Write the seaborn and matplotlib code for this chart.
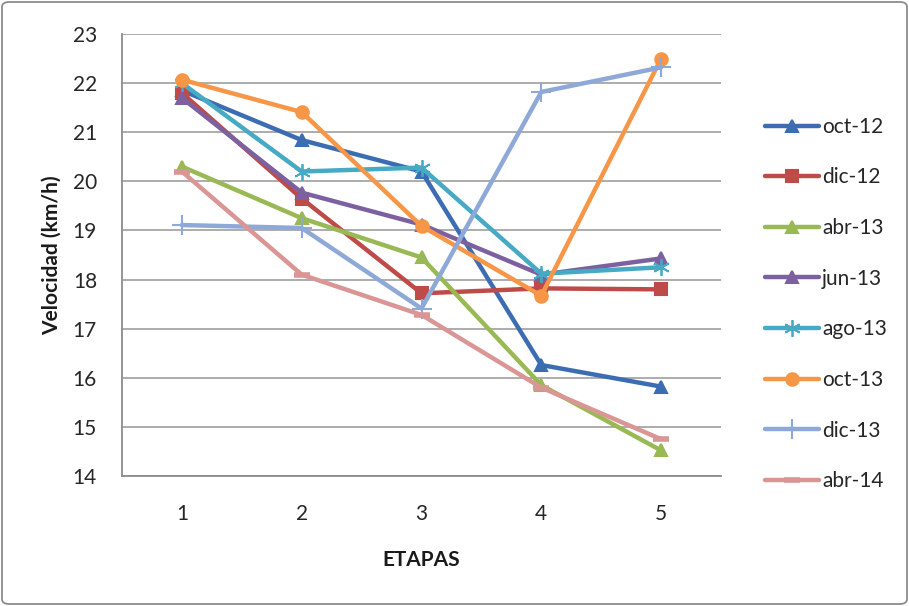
import matplotlib
matplotlib.use("Agg")
import matplotlib.pyplot as plt
import seaborn as sns
import pandas as pd
from matplotlib.patches import FancyBboxPatch

etapas = [1, 2, 3, 4, 5]
series_names = ["oct-12", "dic-12", "abr-13", "jun-13", "ago-13", "oct-13", "dic-13", "abr-14"]
oct12 = [21.85, 20.84, 20.20, 16.26, 15.82]
dic12 = [21.80, 19.65, 17.72, 17.82, 17.80]
abr13 = [20.30, 19.25, 18.45, 15.85, 14.52]
jun13 = [21.70, 19.77, 19.12, 18.10, 18.43]
ago13 = [22.00, 20.20, 20.28, 18.12, 18.25]
oct13 = [22.07, 21.41, 19.09, 17.67, 22.50]
dic13 = [19.11, 19.05, 17.41, 21.82, 22.32]
abr14 = [20.20, 18.10, 17.28, 15.80, 14.75]
values = [oct12, dic12, abr13, jun13, ago13, oct13, dic13, abr14]
y_ticks = [14, 15, 16, 17, 18, 19, 20, 21, 22, 23]

colors = ["#3C6DB3", "#BE4B48", "#98B954", "#7D60A0", "#46AAC5", "#F79646", "#8EA9D8", "#D99694"]
markers = ["^", "s", "^", "^", "*", "o", "+", "_"]

sns.set_theme(style="white")
plt.rcParams["font.family"] = ["Lato", "DejaVu Sans"]

fig = plt.figure(figsize=(9.09, 6.06), dpi=100)
ax = fig.add_axes([122/909, 1-476/606, (721-122)/909, (476-34)/606])

for name, vals, c, m in zip(series_names, values, colors, markers):
    df = pd.DataFrame({"Etapa": etapas, "Velocidad": vals})
    kw = dict(markersize=9, markeredgewidth=1.5)
    if m == "*":
        kw = dict(markersize=12, markeredgewidth=1.3)
        m = (6, 2, 0)
    if m == "+":
        kw = dict(markersize=15, markeredgewidth=1.5)
    if m == "_":
        kw = dict(markersize=12, markeredgewidth=4)
    sns.lineplot(data=df, x="Etapa", y="Velocidad", ax=ax, color=c, marker=m,
                 markeredgecolor=c, linewidth=3.2, label=name, **kw)

ax.set_xlim(0.5, 5.5)
ax.set_ylim(14, 23)
ax.set_yticks(y_ticks)
ax.set_xticks(etapas)
ax.set_xticks([0.5, 1.5, 2.5, 3.5, 4.5, 5.5], minor=True)
ax.tick_params(axis="x", which="major", length=0, pad=20, labelsize=15, labelcolor="#262626")
ax.tick_params(axis="x", which="minor", length=7, width=1.2, color="#8C8C8C", direction="out")
ax.tick_params(axis="y", which="major", length=8, width=1.2, color="#8C8C8C", direction="out",
               labelsize=15, labelcolor="#262626", pad=10)
ax.yaxis.grid(True, color="#A6A6A6", linewidth=1.3)
ax.set_axisbelow(True)
for s in ["top", "right"]:
    ax.spines[s].set_visible(False)
for s in ["left", "bottom"]:
    ax.spines[s].set_color("#8C8C8C")
    ax.spines[s].set_linewidth(1.3)

ax.set_xlabel("ETAPAS", fontsize=15, fontweight="bold", color="#1a1a1a", labelpad=19)
ax.set_ylabel("Velocidad (km/h)", fontsize=15, fontweight="bold", color="#1a1a1a", labelpad=8)

handles, labels = ax.get_legend_handles_labels()
ax.get_legend().remove()
fig.legend(handles, labels, loc="center left", bbox_to_anchor=(746/909, 1-304/606),
           frameon=False, fontsize=15, labelspacing=1.47, handlelength=2.6,
           handletextpad=0.15, labelcolor="#262626")

border = FancyBboxPatch((2/909, 2/606), 1-4/909, 1-4/606, boxstyle="round,pad=0,rounding_size=0.008",
                        transform=fig.transFigure, fill=False, edgecolor="#8C8C8C", linewidth=1.3)
fig.patches.append(border)

fig.savefig("out.png", dpi=100)
